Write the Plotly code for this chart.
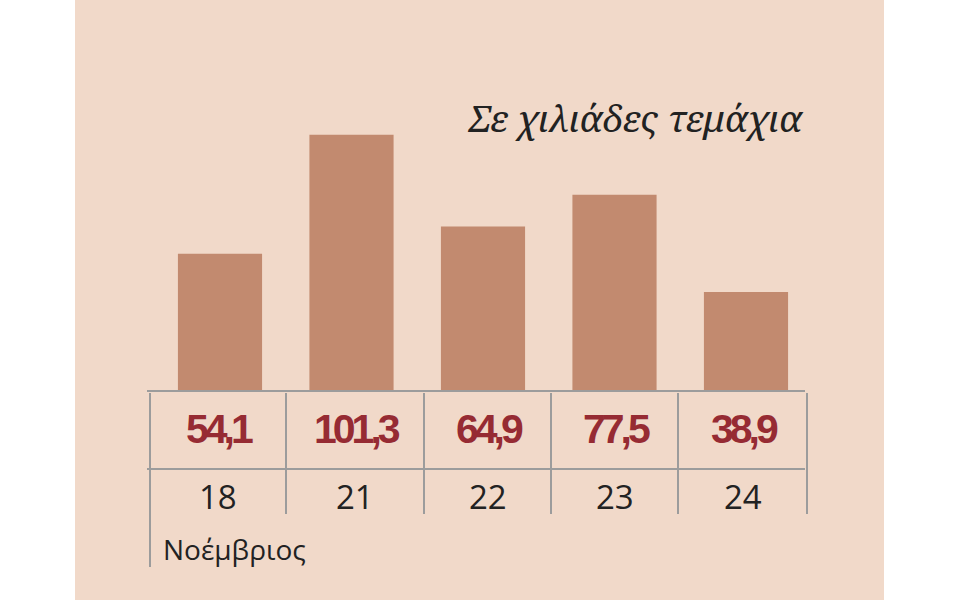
import plotly.graph_objects as go

# data
days = ["18", "21", "22", "23", "24"]
values = [54.1, 101.3, 64.9, 77.5, 38.9]
value_labels = ["54,1", "101,3", "64,9", "77,5", "38,9"]
month = "Νοέμβριος"
title = "Σε χιλιάδες τεμάχια"

W, H = 960, 600
BAR = "#C28A6F"
PANEL = "#F1D9C9"
LINE = "#9C9C9C"
RED = "#962B33"
INK = "#222222"

SERIF = "'Noto Serif', 'Liberation Serif', serif"
SANS = "'Open Sans', 'Noto Sans', sans-serif"
BOLD = "'Liberation Sans', Arial, sans-serif"

# pixel helpers (margins are zero, so paper == page)
def px(x):
    return x / W

def py(y):
    return 1 - y / H

# category spacing 131.5 px, first centre at 220 px
step = 131.5
x0 = -220 / step
y_scale = 2.52          # px per thousand
base_px = 390

fig = go.Figure()
fig.add_trace(go.Bar(
    x=list(range(len(days))),
    y=values,
    marker=dict(color=BAR, line=dict(width=0)),
    width=0.64,
    hoverinfo="skip",
))

shapes = [
    dict(type="rect", xref="paper", yref="paper", x0=px(75), x1=px(884),
         y0=0, y1=1, fillcolor=PANEL, line=dict(width=0), layer="below"),
]
# table grid
for yy in (391, 469):
    shapes.append(dict(type="line", xref="paper", yref="paper",
                       x0=px(147), x1=px(805), y0=py(yy), y1=py(yy),
                       line=dict(color=LINE, width=2)))
cell_edges = [150, 286, 424, 551, 678, 807]
for i, xx in enumerate(cell_edges):
    shapes.append(dict(type="line", xref="paper", yref="paper",
                       x0=px(xx), x1=px(xx), y0=py(393),
                       y1=py(567 if i == 0 else 514),
                       line=dict(color=LINE, width=2)))

cell_centres = [(cell_edges[i] + cell_edges[i + 1]) / 2 for i in range(5)]

annotations = [
    dict(text="<i>" + title + "</i>", xref="paper", yref="paper",
         x=px(806), y=py(117), xanchor="right", yanchor="middle",
         showarrow=False, font=dict(family=SERIF, size=37, color=INK)),
    dict(text=month, xref="paper", yref="paper", x=px(161), y=py(549),
         xanchor="left", yanchor="middle", showarrow=False,
         font=dict(family=SANS, size=28, color=INK)),
]
for c, lab, d in zip(cell_centres, value_labels, days):
    annotations.append(dict(
        text="<b>" + lab + "</b>", xref="paper", yref="paper", x=px(c), y=py(429),
        xanchor="center", yanchor="middle", showarrow=False,
        font=dict(family=BOLD, size=41, color=RED)))
    annotations.append(dict(
        text=d, xref="paper", yref="paper", x=px(c), y=py(496),
        xanchor="center", yanchor="middle", showarrow=False,
        font=dict(family=SANS, size=33, color=INK)))

fig.update_layout(
    width=W, height=H,
    margin=dict(l=0, r=0, t=0, b=0),
    paper_bgcolor="white",
    plot_bgcolor="white",
    showlegend=False,
    shapes=shapes,
    annotations=annotations,
    xaxis=dict(range=[x0, x0 + W / step], visible=False, fixedrange=True),
    yaxis=dict(range=[-(H - base_px) / y_scale, base_px / y_scale],
               visible=False, fixedrange=True),
)

# no page margin; tighten the tracking of the bold value labels
js = """
document.body.style.margin = '0';
document.querySelectorAll('text.annotation-text').forEach(function (t) {
  if (/^\\d+,\\d$/.test(t.textContent)) { t.style.letterSpacing = '-4px'; }
});
"""
fig.write_html("out.html", post_script=js, config={"displayModeBar": False})
